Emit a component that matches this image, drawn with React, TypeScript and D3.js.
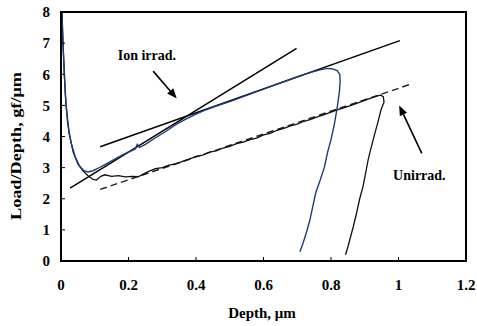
import React from 'react';
import * as d3 from 'd3';

// depth (µm), load/depth (gf/µm)
const xTicks = [0, 0.2, 0.4, 0.6, 0.8, 1, 1.2];
const yTicks = [0, 1, 2, 3, 4, 5, 6, 7, 8];

const ionIrrad: [number, number][] = [
  [0.002, 8.3], [0.005, 7.2], [0.009, 6.2], [0.013, 5.3], [0.02, 4.4], [0.03, 3.8],
  [0.042, 3.35], [0.055, 3.05], [0.068, 2.9], [0.08, 2.86], [0.095, 2.9], [0.11, 2.98],
  [0.13, 3.1], [0.15, 3.22], [0.17, 3.34], [0.19, 3.45], [0.21, 3.55], [0.22, 3.6],
  [0.226, 3.75], [0.233, 3.65], [0.25, 3.75], [0.28, 3.96], [0.31, 4.16], [0.34, 4.38],
  [0.37, 4.56], [0.4, 4.72], [0.43, 4.86], [0.46, 4.98], [0.5, 5.12], [0.54, 5.28],
  [0.58, 5.44], [0.62, 5.6], [0.66, 5.76], [0.7, 5.92], [0.74, 6.06], [0.77, 6.15],
  [0.79, 6.19], [0.805, 6.17], [0.818, 6.12], [0.826, 6.0], [0.827, 5.75], [0.825, 5.45],
  [0.818, 4.9], [0.81, 4.4], [0.8, 3.9], [0.79, 3.5], [0.78, 3.0], [0.768, 2.6],
  [0.755, 2.2], [0.745, 1.7], [0.737, 1.3], [0.728, 0.95], [0.718, 0.6], [0.708, 0.3],
];

const unirrad: [number, number][] = [
  [0.002, 8.3], [0.006, 7.0], [0.01, 6.0], [0.015, 5.0], [0.024, 4.1], [0.036, 3.5],
  [0.05, 3.12], [0.065, 2.9], [0.08, 2.74], [0.095, 2.62], [0.105, 2.6], [0.118, 2.72],
  [0.13, 2.77], [0.15, 2.72], [0.17, 2.74], [0.19, 2.7], [0.21, 2.72], [0.23, 2.71],
  [0.245, 2.8], [0.26, 2.88], [0.28, 2.97], [0.3, 3.0], [0.32, 3.08], [0.34, 3.12],
  [0.36, 3.2], [0.38, 3.27], [0.4, 3.36], [0.42, 3.4], [0.44, 3.5], [0.46, 3.54],
  [0.48, 3.63], [0.5, 3.68], [0.52, 3.77], [0.54, 3.82], [0.56, 3.9], [0.58, 3.95],
  [0.6, 4.05], [0.62, 4.1], [0.64, 4.2], [0.66, 4.26], [0.68, 4.34], [0.7, 4.4],
  [0.72, 4.49], [0.74, 4.55], [0.76, 4.63], [0.78, 4.7], [0.8, 4.78], [0.82, 4.86],
  [0.84, 4.93], [0.86, 5.0], [0.88, 5.08], [0.9, 5.16], [0.92, 5.24], [0.935, 5.3],
  [0.947, 5.33], [0.955, 5.28], [0.957, 5.1], [0.948, 4.85], [0.94, 4.5], [0.93, 4.1],
  [0.918, 3.6], [0.91, 3.25], [0.903, 2.85], [0.895, 2.4], [0.885, 2.0], [0.876, 1.55],
  [0.866, 1.1], [0.856, 0.7], [0.85, 0.45], [0.843, 0.2],
];

// fitted straight lines
const steepLine: [number, number][] = [[0.027, 2.34], [0.698, 6.83]];
const shallowLine: [number, number][] = [[0.116, 3.67], [1.004, 7.08]];
const dashedLine: [number, number][] = [[0.116, 2.3], [1.039, 5.69]];

// annotations: [label, textPos, arrowTail, arrowHead]
const ionNote = { label: 'Ion irrad.', text: [0.168, 6.45], tail: [0.273, 6.1], head: [0.343, 5.22] };
const unNote = { label: 'Unirrad.', text: [0.984, 2.6], tail: [1.069, 3.46], head: [1.002, 5.0] };

const W = 477, H = 326;
const margin = { top: 12, right: 11, bottom: 65, left: 61 };
const font = "'Liberation Serif', 'Times New Roman', serif";

export default function App() {
  const iw = W - margin.left - margin.right;
  const ih = H - margin.top - margin.bottom;
  const x = d3.scaleLinear().domain([0, 1.2]).range([0, iw]);
  const y = d3.scaleLinear().domain([0, 8]).range([ih, 0]);
  const line = d3.line<[number, number]>().x(d => x(d[0])).y(d => y(d[1]));

  const arrow = (n: typeof ionNote) => {
    const x1 = x(n.tail[0]), y1 = y(n.tail[1]), x2 = x(n.head[0]), y2 = y(n.head[1]);
    const a = Math.atan2(y2 - y1, x2 - x1);
    const L = 10, w = 4;
    const bx = x2 - L * Math.cos(a), by = y2 - L * Math.sin(a);
    const p = `${x2},${y2} ${bx + w * Math.sin(a)},${by - w * Math.cos(a)} ${bx - w * Math.sin(a)},${by + w * Math.cos(a)}`;
    return (
      <g>
        <line x1={x1} y1={y1} x2={bx} y2={by} stroke="#000" strokeWidth={1.6} />
        <polygon points={p} fill="#000" />
      </g>
    );
  };

  return (
    <svg width={W} height={H} style={{ position: 'absolute', left: 0, top: 0, background: '#fff' }}
      fontFamily={font} fontWeight="bold">
      <defs>
        <clipPath id="plot">
          <rect x={0} y={0} width={iw} height={ih} />
        </clipPath>
      </defs>
      <g transform={`translate(${margin.left},${margin.top})`}>
        <g clipPath="url(#plot)">
          <path d={line(dashedLine)!} fill="none" stroke="#222" strokeWidth={1.5} strokeDasharray="7,4" />
          <path d={line(steepLine)!} fill="none" stroke="#000" strokeWidth={1.5} />
          <path d={line(shallowLine)!} fill="none" stroke="#000" strokeWidth={1.5} />
          <path d={line(unirrad)!} fill="none" stroke="#111" strokeWidth={1.3} />
          <path d={line(ionIrrad)!} fill="none" stroke="#1f3c78" strokeWidth={1.4} />
        </g>

        {/* frame */}
        <rect x={0} y={0} width={iw} height={ih} fill="none" stroke="#000" strokeWidth={2} />

        {xTicks.map(t => (
          <g key={'x' + t} transform={`translate(${x(t)},${ih})`}>
            <line y2={-4} stroke="#000" strokeWidth={1} />
            <text y={29} textAnchor="middle" fontSize={15}>{t}</text>
          </g>
        ))}
        {yTicks.map(t => (
          <g key={'y' + t} transform={`translate(0,${y(t)})`}>
            <line x2={4} stroke="#000" strokeWidth={1} />
            <text x={-11} dy="0.35em" textAnchor="end" fontSize={15}>{t}</text>
          </g>
        ))}

        <text x={x(ionNote.text[0])} y={y(ionNote.text[1])} fontSize={14}>{ionNote.label}</text>
        {arrow(ionNote)}
        <text x={x(unNote.text[0])} y={y(unNote.text[1])} fontSize={14}>{unNote.label}</text>
        {arrow(unNote)}
      </g>

      <text x={262} y={318} textAnchor="middle" fontSize={15}>Depth, μm</text>
      <text transform="translate(21,146) rotate(-90)" textAnchor="middle" fontSize={15}
        textLength={148} lengthAdjust="spacingAndGlyphs">Load/Depth, gf/μm</text>
    </svg>
  );
}
